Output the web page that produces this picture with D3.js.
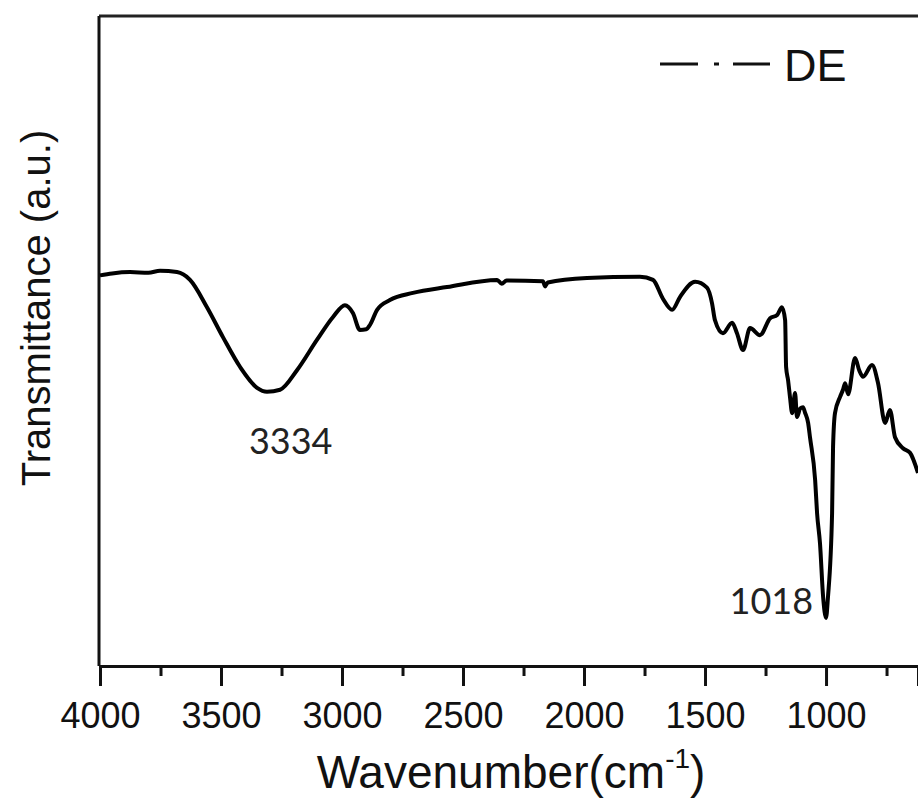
<!DOCTYPE html>
<html>
<head>
<meta charset="utf-8">
<script src="https://cdnjs.cloudflare.com/ajax/libs/d3/7.8.5/d3.min.js"></script>
<style>
  body { margin: 0; background: #fff; }
  svg { display: block; }
</style>
</head>
<body>
<svg></svg>
<script>
// FTIR spectrum of DE
var wavenumber = [4000, 3950, 3876, 3800, 3752, 3682, 3628, 3558, 3492, 3421,
    3351, 3310, 3256, 3186, 3103, 3037, 2988, 2955, 2926, 2900,
    2884, 2855, 2802, 2707, 2566, 2359, 2340, 2320, 2170, 2161,
    2150, 1988, 1769, 1715, 1674, 1636, 1603, 1541, 1492, 1471,
    1459, 1426, 1388, 1368, 1343, 1314, 1273, 1231, 1202, 1182,
    1169, 1165, 1157, 1149, 1140, 1128, 1120, 1107, 1095, 1087,
    1074, 1066, 1045, 1037, 1025, 1012, 1000, 992, 975, 971,
    963, 942, 930, 921, 909, 880, 863, 847, 810, 785, 756,
    736, 715, 682, 653, 620];
var transmittance = [60.1, 60.4, 60.6, 60.5, 60.8, 60.6, 59.4, 55.2, 50.6, 46.0,
    42.8, 42.2, 42.5, 45.5, 50.2, 53.7, 55.5, 54.3, 51.7, 51.8,
    52.5, 54.8, 56.3, 57.4, 58.3, 59.4, 58.8, 59.3, 59.2, 58.4,
    59.0, 59.7, 59.9, 59.4, 56.5, 54.8, 56.8, 59.1, 58.2, 55.8,
    53.2, 51.2, 52.8, 51.2, 48.6, 52.0, 50.9, 53.5, 54.0, 55.2,
    53.2, 46.0, 44.0, 41.4, 38.9, 42.0, 38.3, 39.6, 39.8, 39.0,
    37.4, 35.1, 28.6, 23.5, 18.9, 10.6, 7.4, 10.6, 23.5, 33.7,
    38.9, 41.4, 42.5, 43.5, 41.8, 47.4, 45.5, 44.5, 46.3, 43.5, 37.4,
    39.4, 35.2, 33.5, 32.8, 29.7];

var majorTicks = [4000, 3500, 3000, 2500, 2000, 1500, 1000];
var minorTicks = [3750, 3250, 2750, 2250, 1750, 1250, 750];

var peakLabels = ["3334", "1018"];
var peakAt = [3310, 1000];
var seriesName = "DE";

var width = 918, height = 799;

var svg = d3.select("svg")
    .attr("width", width)
    .attr("height", height);

var x = d3.scaleLinear()
    .domain([4000, 620])
    .range([100, 918]);

var y = d3.scaleLinear()
    .domain([0, 100])
    .range([666, 16]);

var pts = wavenumber.map(function(w, i) { return [w, transmittance[i]]; });

// frame: top edge + left edge
svg.append("line")
    .attr("x1", 99).attr("x2", width)
    .attr("y1", y(100)).attr("y2", y(100))
    .attr("stroke", "#222").attr("stroke-width", 3);

svg.append("line")
    .attr("x1", 99).attr("x2", 99)
    .attr("y1", y(100)).attr("y2", y(0))
    .attr("stroke", "#111").attr("stroke-width", 3);

// x axis, major and minor ticks
var xAxis = svg.append("g")
    .attr("transform", "translate(0," + y(0) + ")")
    .call(d3.axisBottom(x).tickValues(majorTicks).tickSize(20).tickFormat(d3.format("d")));

svg.append("g")
    .attr("transform", "translate(0," + y(0) + ")")
    .call(d3.axisBottom(x).tickValues(minorTicks).tickSize(10).tickFormat(""))
    .select(".domain").remove();

svg.selectAll(".domain")
    .attr("stroke", "#111")
    .attr("stroke-width", 3);

svg.selectAll(".tick line")
    .attr("stroke", "#111")
    .attr("stroke-width", 3);

xAxis.selectAll("text")
    .attr("y", 62)
    .attr("dy", null)
    .attr("fill", "#111")
    .style("font-family", "'Liberation Sans', Arial, sans-serif")
    .style("font-size", "36px");

// axis titles
svg.append("text")
    .attr("x", 511).attr("y", 788)
    .attr("text-anchor", "middle")
    .style("font-family", "'Liberation Sans', Arial, sans-serif")
    .style("font-size", "46px")
    .attr("fill", "#111")
    .call(function(t) {
        t.append("tspan").text("Wavenumber(cm");
        t.append("tspan").attr("dy", -20).style("font-size", "28px").text("-1");
        t.append("tspan").attr("dy", 20).text(")");
    });

svg.append("text")
    .attr("transform", "translate(50,308) rotate(-90)")
    .attr("text-anchor", "middle")
    .style("font-family", "'Liberation Sans', Arial, sans-serif")
    .style("font-size", "40px")
    .attr("fill", "#111")
    .text("Transmittance (a.u.)");

// spectrum
var line = d3.line()
    .x(function(d) { return x(d[0]); })
    .y(function(d) { return y(d[1]); })
    .curve(d3.curveMonotoneX);

svg.append("path")
    .datum(pts)
    .attr("fill", "none")
    .attr("stroke", "#000")
    .attr("stroke-width", 4)
    .attr("stroke-linejoin", "round")
    .attr("d", line);

// peak annotations
svg.append("text")
    .attr("x", x(peakAt[0]) - 18).attr("y", 454)
    .style("font-family", "Lato, 'Open Sans', sans-serif")
    .style("font-size", "36px")
    .attr("fill", "#222")
    .text(peakLabels[0]);

svg.append("text")
    .attr("x", x(peakAt[1]) - 13).attr("y", 614)
    .attr("text-anchor", "end")
    .style("font-family", "Lato, 'Open Sans', sans-serif")
    .style("font-size", "36px")
    .attr("fill", "#222")
    .text(peakLabels[1]);

// legend
svg.append("line")
    .attr("x1", 660).attr("x2", 770)
    .attr("y1", 64).attr("y2", 64)
    .attr("stroke", "#111")
    .attr("stroke-width", 3)
    .attr("stroke-dasharray", "38,16,5,14,37,100");

svg.append("text")
    .attr("x", 784).attr("y", 81)
    .style("font-family", "'Liberation Sans', Arial, sans-serif")
    .style("font-size", "45px")
    .attr("fill", "#111")
    .text(seriesName);
</script>
</body>
</html>
